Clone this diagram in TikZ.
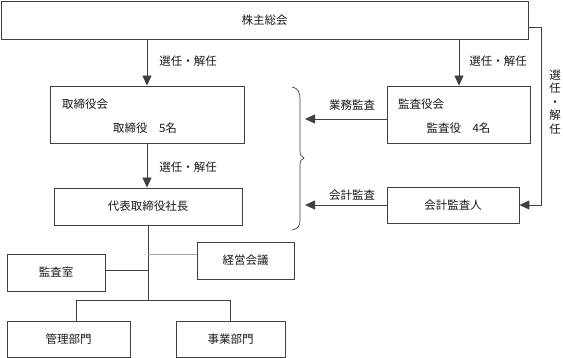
\documentclass[tikz,border=0pt]{standalone}
\usepackage{fontspec}
\setmainfont{Noto Sans CJK JP}
\usetikzlibrary{arrows.meta}
\begin{document}
\begin{tikzpicture}[x=1pt,y=-1pt,
  every node/.style={font=\fontsize{11.5}{13}\selectfont, text=black!90},
  box/.style={draw=black!75, line width=0.8pt, inner sep=0pt, fill=white},
  conn/.style={draw=black!75, line width=0.8pt},
  arr/.style={conn, -{Triangle[length=10pt,width=9pt]}},
  lbl/.style={inner sep=0pt}]
\useasboundingbox (0,0) rectangle (563,358);
% boxes
\node[box, minimum width=527pt, minimum height=38pt] (sh) at (264.5,20) {株主総会};
\node[box, minimum width=194pt, minimum height=57pt] (tb) at (147,114.5) {};
\node[lbl, anchor=west] (tbt) at (62,104) {取締役会};
\node[lbl] (tbn) at (145,128) {取締役　5名};
\node[box, minimum width=188pt, minimum height=37pt] (ceo) at (148,206.5) {代表取締役社長};
\node[box, minimum width=143pt, minimum height=57pt] (kan) at (458.5,114.5) {};
\node[lbl, anchor=west] (kant) at (398,104) {監査役会};
\node[lbl] (kann) at (458.5,128) {監査役　4名};
\node[box, minimum width=132pt, minimum height=36pt] (aud) at (453,205) {会計監査人};
\node[box, minimum width=97pt, minimum height=37pt] (keiei) at (245.5,260.5) {経営会議};
\node[box, minimum width=98pt, minimum height=37pt] (kansa) at (56,272.5) {監査室};
\node[box, minimum width=123pt, minimum height=36pt] (kanri) at (68.5,339) {管理部門};
\node[box, minimum width=109pt, minimum height=36pt] (jigyo) at (230.5,339) {事業部門};
% arrows from shareholders
\draw[arr] (sh.south -| tb.north) -- (tb.north);
\node[lbl] (l1) at (188,61) {選任・解任};
\draw[arr] (459,39) coordinate (s2) -- (s2 |- kan.north);
\node[lbl] (l2) at (498,61) {選任・解任};
\draw[arr] (tb.south) -- (ceo.north -| tb.south);
\node[lbl] (l3) at (188,167) {選任・解任};
% right side
\coordinate (r1) at (541.5,27);
\draw[arr] (r1 -| sh.east) -- (r1) -- (r1 |- aud.east) -- (aud.east);
\node[lbl, align=center, font=\fontsize{11.5}{13.6}\selectfont] (l4) at (555,102) {選\\任\\・\\解\\任};
% audits
\coordinate (b1) at (305,119);
\coordinate (b2) at (305,205);
\draw[arr] (b1 -| kan.west) -- (b1);
\node[lbl] (l5) at (352,105) {業務監査};
\draw[arr] (aud.west) -- (b2 |- aud.west);
\node[lbl] (l6) at (352,195) {会計監査};
% brace
\draw[conn, line width=0.7pt] (292,87) .. controls (298,88) and (300,92) .. (300,100)
  -- (300,150) .. controls (300,155) and (301,157) .. (304,158)
  .. controls (301,159) and (300,161) .. (300,166)
  -- (300,220) .. controls (300,226) and (298,229) .. (292,230);
% bottom tree
\coordinate (t1) at (ceo.south |- 0,300.5);
\draw[conn] (ceo.south) -- (t1);
\draw[draw=black!35, line width=0.8pt] (ceo.south |- 0,254) -- (keiei.west |- 0,254);
\draw[conn] (kansa.east |- 0,270) -- (ceo.south |- 0,270);
\coordinate (t2) at (76,300.5);
\coordinate (t3) at (230.5,300.5);
\draw[conn] (t2 |- kanri.north) -- (t2) -- (t3) -- (t3 |- jigyo.north);
\end{tikzpicture}
\end{document}
